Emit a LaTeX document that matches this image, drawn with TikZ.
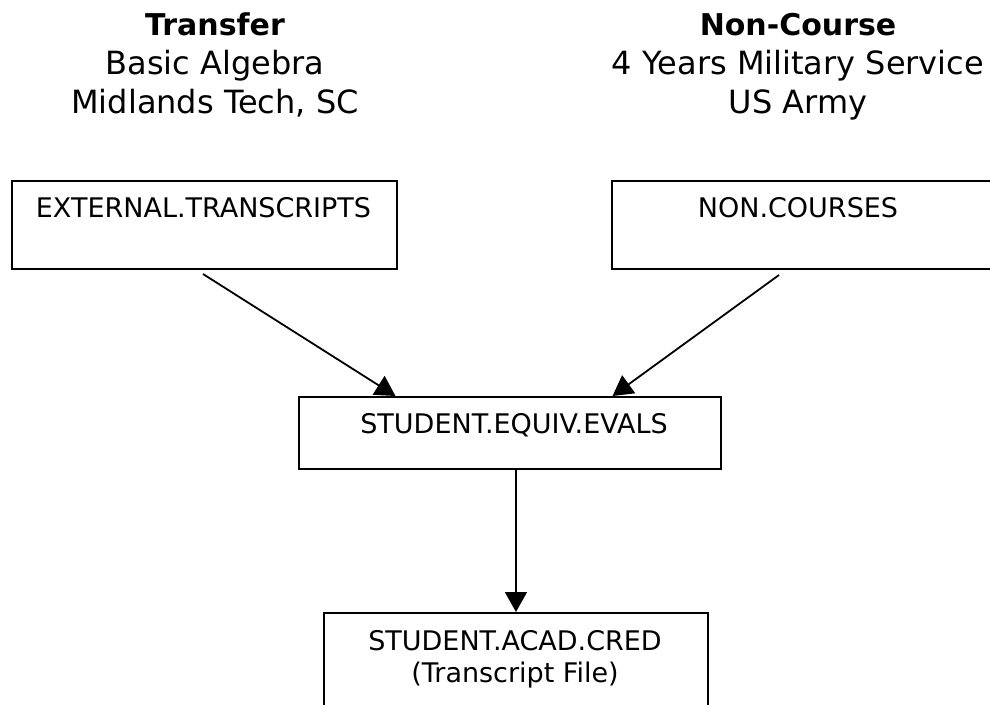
\documentclass[tikz,border=0pt]{standalone}
\usepackage{fontspec}
\setmainfont{DejaVu Sans}
\usetikzlibrary{arrows.meta,calc}

\tikzset{
  tablebox/.style={draw=black, line width=1.9pt, inner sep=0pt, anchor=north west},
  tablename/.style={anchor=base, inner sep=0pt, font=\fontsize{27}{32}\selectfont},
  headbold/.style={anchor=base, inner sep=0pt, font=\fontsize{30}{36}\selectfont\bfseries},
  headline/.style={anchor=base, inner sep=0pt, font=\fontsize{32}{38}\selectfont},
  flow/.style={line width=1.8pt, -{Triangle[length=20pt,width=22pt]}},
}

\begin{document}
\begin{tikzpicture}[x=1pt, y=-1pt]
  \clip (0,0) rectangle (990,704);

  % Headings above the source tables
  \node[headbold] (hL1) at (215,35) {Transfer};
  \node[headline] (hL2) at (215,74) {Basic Algebra};
  \node[headline] (hL3) at (215,113) {Midlands Tech, SC};

  \node[headbold] (hR1) at (798,35) {Non-Course};
  \node[headline] (hR2) at (798,74) {4 Years Military Service};
  \node[headline] (hR3) at (798,113) {US Army};

  % Table boxes
  \node[tablebox, minimum width=385pt, minimum height=88pt] (ext) at (11,180) {};
  \node[tablename] (extT) at (203.5,217) {EXTERNAL.TRANSCRIPTS};

  \node[tablebox, minimum width=420pt, minimum height=88pt] (non) at (611,180) {};
  \node[tablename] (nonT) at (798,217) {NON.COURSES};

  \node[tablebox, minimum width=422pt, minimum height=72pt] (equiv) at (298,396) {};
  \node[tablename] (equivT) at (514,433) {STUDENT.EQUIV.EVALS};

  \node[tablebox, minimum width=384pt, minimum height=120pt] (acad) at (323,612) {};
  \node[tablename] (acadT1) at (515,650) {STUDENT.ACAD.CRED};
  \node[tablename] (acadT2) at (515,682) {(Transcript File)};

  % Connector start points just below the source boxes
  \coordinate (extOut) at (203,274);
  \coordinate (nonOut) at (779,275);

  % Flow connectors
  \draw[flow] (extOut) -- ($(equiv.north west)!0.230!(equiv.north east)$);
  \draw[flow] (nonOut) -- ($(equiv.north west)!0.742!(equiv.north east)$);
  \draw[flow] (equiv.south -| acad.north) -- (acad.north);
\end{tikzpicture}
\end{document}
